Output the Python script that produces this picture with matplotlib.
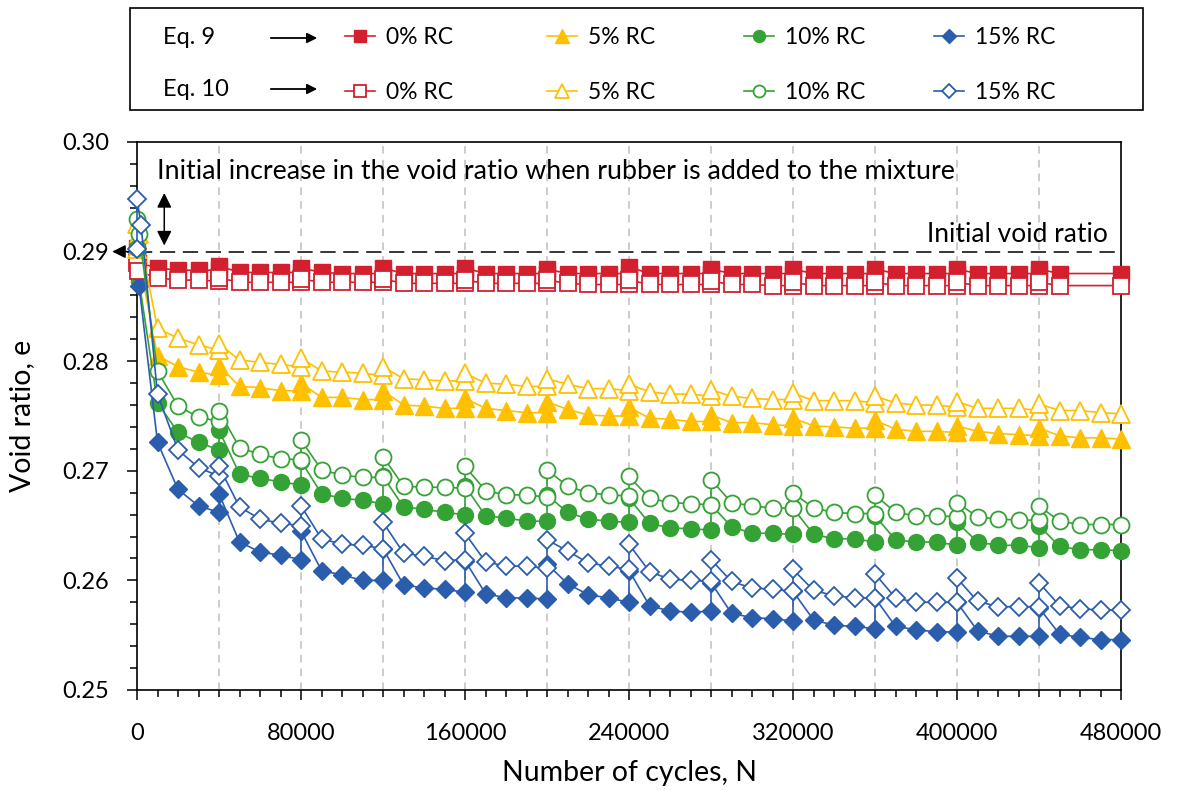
import matplotlib
matplotlib.use('Agg')
import matplotlib.pyplot as plt
from matplotlib.patches import Rectangle
from matplotlib.ticker import MultipleLocator, FormatStrFormatter

plt.rcParams['font.family'] = ['Lato', 'DejaVu Sans']

# sampling every 10000 cycles, specimen re-seated every 40000 cycles
cycles = list(range(10000, 480001, 10000))
reload_cycles = list(range(40000, 440001, 40000))

# ---- Eq. 9 ----
eq9_0_start = ([0, 500], [0.2903, 0.2890])
eq9_0 = [0.2885, 0.2883, 0.2883, 0.2883, 0.2881, 0.2881, 0.2881, 0.2881,
         0.2881, 0.2880, 0.2880, 0.2880, 0.2880, 0.2880, 0.2880, 0.2880,
         0.2880, 0.2880, 0.2880, 0.2880, 0.2880, 0.2880, 0.2880, 0.2880,
         0.2880, 0.2880, 0.2880, 0.2880, 0.2880, 0.2880, 0.2880, 0.2880,
         0.2880, 0.2880, 0.2880, 0.2880, 0.2880, 0.2880, 0.2880, 0.2880,
         0.2880, 0.2880, 0.2880, 0.2880, 0.2880, None, None, 0.2880]
eq9_0_peak = [0.2887, 0.2885, 0.2885, 0.2885, 0.2884, 0.2886, 0.2884, 0.2884,
              0.2884, 0.2884, 0.2884]

eq9_5_start = ([0, 500], [0.2902, 0.2897])
eq9_5 = [0.2805, 0.2795, 0.2790, 0.2787, 0.2777, 0.2776, 0.2773, 0.2773,
         0.2767, 0.2767, 0.2765, 0.2765, 0.2760, 0.2759, 0.2757, 0.2757,
         0.2757, 0.2755, 0.2753, 0.2753, 0.2756, 0.2751, 0.2750, 0.2750,
         0.2748, 0.2747, 0.2745, 0.2745, 0.2744, 0.2744, 0.2742, 0.2741,
         0.2741, 0.2740, 0.2739, 0.2739, 0.2738, 0.2736, 0.2736, 0.2735,
         0.2736, 0.2734, 0.2733, 0.2732, 0.2732, 0.2730, 0.2730, 0.2729]
eq9_5_peak = [0.2796, 0.2780, 0.2773, 0.2766, 0.2763, 0.2758, 0.2751, 0.2748,
              0.2746, 0.2741, 0.2739]

eq9_10_start = ([0, 1000], [0.2900, 0.2873])
eq9_10 = [0.2762, 0.2735, 0.2726, 0.2719, 0.2697, 0.2693, 0.2690, 0.2687,
          0.2679, 0.2675, 0.2673, 0.2670, 0.2667, 0.2665, 0.2662, 0.2660,
          0.2659, 0.2657, 0.2654, 0.2654, 0.2662, 0.2656, 0.2654, 0.2653,
          0.2652, 0.2648, 0.2647, 0.2646, 0.2649, 0.2643, 0.2643, 0.2642,
          0.2642, 0.2638, 0.2638, 0.2635, 0.2637, 0.2635, 0.2635, 0.2632,
          0.2635, 0.2632, 0.2632, 0.2630, 0.2631, 0.2628, 0.2628, 0.2627]
eq9_10_peak = [0.2737, 0.2709, 0.2695, 0.2686, 0.2678, 0.2675, 0.2669, 0.2666,
               0.2659, 0.2653, 0.2650]

eq9_15_start = ([0, 1000], [0.2900, 0.2869])
eq9_15 = [0.2726, 0.2683, 0.2668, 0.2662, 0.2635, 0.2626, 0.2623, 0.2619,
          0.2609, 0.2605, 0.2600, 0.2600, 0.2596, 0.2593, 0.2592, 0.2589,
          0.2588, 0.2584, 0.2584, 0.2583, 0.2597, 0.2587, 0.2584, 0.2580,
          0.2577, 0.2572, 0.2571, 0.2572, 0.2570, 0.2566, 0.2565, 0.2563,
          0.2564, 0.2559, 0.2558, 0.2556, 0.2558, 0.2555, 0.2553, 0.2553,
          0.2554, 0.2549, 0.2549, 0.2549, 0.2551, 0.2548, 0.2546, 0.2546]
eq9_15_peak = [0.2679, 0.2645, 0.2629, 0.2618, 0.2615, 0.2609, 0.2598, 0.2590,
               0.2584, 0.2580, 0.2575]

# ---- Eq. 10 ----
eq10_0_start = ([0, 500], [0.2890, 0.2882])
eq10_0 = [0.2876, 0.2874, 0.2874, 0.2873, 0.2872, 0.2872, 0.2872, 0.2872,
          0.2872, 0.2872, 0.2872, 0.2872, 0.2871, 0.2871, 0.2871, 0.2871,
          0.2871, 0.2871, 0.2871, 0.2871, 0.2871, 0.2870, 0.2870, 0.2870,
          0.2870, 0.2870, 0.2870, 0.2870, 0.2870, 0.2870, 0.2869, 0.2869,
          0.2869, 0.2869, 0.2869, 0.2869, 0.2869, 0.2869, 0.2869, 0.2869,
          0.2869, 0.2869, 0.2869, 0.2869, 0.2869, None, None, 0.2869]
eq10_0_peak = [0.2876, 0.2875, 0.2875, 0.2874, 0.2874, 0.2874, 0.2873, 0.2872,
               0.2872, 0.2872, 0.2872]

eq10_5_start = ([0, 0, 1000], [0.2902, 0.2925, 0.2916])
eq10_5 = [0.2830, 0.2821, 0.2815, 0.2810, 0.2801, 0.2799, 0.2797, 0.2795,
          0.2791, 0.2790, 0.2789, 0.2787, 0.2784, 0.2783, 0.2782, 0.2782,
          0.2780, 0.2779, 0.2777, 0.2777, 0.2779, 0.2775, 0.2775, 0.2773,
          0.2772, 0.2770, 0.2770, 0.2768, 0.2768, 0.2766, 0.2765, 0.2765,
          0.2764, 0.2764, 0.2764, 0.2762, 0.2762, 0.2760, 0.2760, 0.2758,
          0.2757, 0.2757, 0.2757, 0.2755, 0.2755, 0.2755, 0.2753, 0.2752]
eq10_5_peak = [0.2816, 0.2803, 0.2795, 0.2789, 0.2784, 0.2779, 0.2774, 0.2771,
               0.2768, 0.2763, 0.2761]

eq10_10_start = ([0, 0, 1000], [0.2903, 0.2930, 0.2916])
eq10_10 = [0.2791, 0.2759, 0.2749, 0.2745, 0.2721, 0.2715, 0.2711, 0.2710,
           0.2701, 0.2696, 0.2694, 0.2694, 0.2686, 0.2685, 0.2685, 0.2684,
           0.2682, 0.2678, 0.2678, 0.2676, 0.2686, 0.2680, 0.2678, 0.2677,
           0.2675, 0.2671, 0.2670, 0.2669, 0.2671, 0.2668, 0.2666, 0.2666,
           0.2666, 0.2662, 0.2661, 0.2661, 0.2662, 0.2659, 0.2659, 0.2658,
           0.2658, 0.2656, 0.2655, 0.2655, 0.2654, 0.2651, 0.2651, 0.2651]
eq10_10_peak = [0.2755, 0.2728, 0.2713, 0.2704, 0.2701, 0.2695, 0.2692, 0.2680,
                0.2678, 0.2671, 0.2668]

eq10_15_start = ([0, 0, 2000], [0.2902, 0.2948, 0.2924])
eq10_15 = [0.2770, 0.2719, 0.2703, 0.2695, 0.2667, 0.2656, 0.2652, 0.2650,
           0.2638, 0.2633, 0.2632, 0.2629, 0.2625, 0.2622, 0.2618, 0.2619,
           0.2617, 0.2613, 0.2613, 0.2611, 0.2627, 0.2616, 0.2613, 0.2610,
           0.2608, 0.2601, 0.2600, 0.2599, 0.2599, 0.2593, 0.2592, 0.2590,
           0.2591, 0.2586, 0.2584, 0.2584, 0.2584, 0.2580, 0.2580, 0.2580,
           0.2581, 0.2576, 0.2576, 0.2576, 0.2577, 0.2574, 0.2573, 0.2573]
eq10_15_peak = [0.2704, 0.2668, 0.2653, 0.2643, 0.2637, 0.2633, 0.2619, 0.2610,
                0.2606, 0.2602, 0.2598]

rc_labels = ['0% RC', '5% RC', '10% RC', '15% RC']
colors = ['#D2202F', '#FFC000', '#35A235', '#2B5DAD']
markers = ['s', '^', 'o', 'D']
msizes = [12, 12.5, 11.5, 9.3]


def build(start, values, peaks):
    n, e = list(start[0]), list(start[1])
    for c, v in zip(cycles, values):
        if v is None:
            continue
        n.append(c)
        e.append(v)
        if c in reload_cycles:
            n.append(c)
            e.append(peaks[reload_cycles.index(c)])
    return n, e


W, H = 1177, 791
fig = plt.figure(figsize=(W / 100, H / 100), dpi=100)
ax = fig.add_axes([137 / W, 1 - 690 / H, 984 / W, 548 / H])

eq9 = [(eq9_0_start, eq9_0, eq9_0_peak), (eq9_5_start, eq9_5, eq9_5_peak),
       (eq9_10_start, eq9_10, eq9_10_peak), (eq9_15_start, eq9_15, eq9_15_peak)]
eq10 = [(eq10_0_start, eq10_0, eq10_0_peak), (eq10_5_start, eq10_5, eq10_5_peak),
        (eq10_10_start, eq10_10, eq10_10_peak), (eq10_15_start, eq10_15, eq10_15_peak)]

h9, h10 = [], []
for i, s in enumerate(eq9):
    n, e = build(*s)
    h, = ax.plot(n, e, marker=markers[i], ms=msizes[i], color=colors[i],
                 mfc=colors[i], mec=colors[i], lw=1.2, clip_on=False, zorder=3)
    h9.append(h)
for i, s in enumerate(eq10):
    n, e = build(*s)
    h, = ax.plot(n, e, marker=markers[i], ms=msizes[i], color=colors[i],
                 mfc='white', mec=colors[i], mew=1.3, lw=1.2, clip_on=False, zorder=4)
    h10.append(h)

ax.set_xlim(0, 480000)
ax.set_ylim(0.25, 0.30)
ax.xaxis.set_major_locator(MultipleLocator(80000))
ax.xaxis.set_minor_locator(MultipleLocator(10000))
ax.yaxis.set_major_locator(MultipleLocator(0.01))
ax.yaxis.set_minor_locator(MultipleLocator(0.002))
ax.yaxis.set_major_formatter(FormatStrFormatter('%.2f'))
ax.tick_params(which='both', direction='out', width=1.1, color='black')
ax.tick_params(which='major', length=7, labelsize=17)
ax.tick_params(which='minor', length=5)
ax.tick_params(axis='y', which='major', pad=13)
ax.tick_params(axis='x', which='major', pad=17)
for sp in ax.spines.values():
    sp.set_linewidth(1.2)
    sp.set_color('black')

for c in reload_cycles:
    ax.axvline(c, color='#BFBFBF', lw=1.1, ls=(0, (5, 4)), zorder=1)

# initial void ratio reference line
ax.axhline(0.29, color='black', lw=1.1, ls=(0, (10, 5)), zorder=2)
ax.annotate('', xy=(-0.028, 0.29), xytext=(0.0, 0.29),
            xycoords=('axes fraction', 'data'),
            arrowprops=dict(arrowstyle='-|>', color='black', lw=1.1, mutation_scale=20),
            annotation_clip=False)
ax.text(473500, 0.2916, 'Initial void ratio', fontsize=19, ha='right', va='center')

ax.annotate('', xy=(13300, 0.2956), xytext=(13300, 0.2903),
            arrowprops=dict(arrowstyle='<|-|>', color='black', lw=1.1, mutation_scale=22))
ax.text(9800, 0.2973, 'Initial increase in the void ratio when rubber is added to the mixture',
        fontsize=19.3, ha='left', va='center')

ax.set_xlabel('Number of cycles, N', fontsize=20.5)
ax.set_ylabel('Void ratio, e', fontsize=20.5)
ax.xaxis.set_label_coords(0.5, -0.127)
ax.yaxis.set_label_coords(-0.104, 0.5)

# legend box
fig.patches.append(Rectangle((130 / W, 1 - 110 / H), 1013 / W, 102 / H,
                             transform=fig.transFigure, fill=False,
                             edgecolor='black', lw=1.2))
row_y = [1 - 38 / H, 1 - 89 / H]
for y, lab in zip(row_y, ['Eq. 9', 'Eq. 10']):
    fig.text(163 / W, y, lab, fontsize=17, va='center', ha='left')
    ax.annotate('', xy=(320 / W, y), xytext=(268 / W, y), xycoords='figure fraction',
                arrowprops=dict(arrowstyle='-|>', color='black', lw=1.3, mutation_scale=15),
                annotation_clip=False)

col_x = [345, 547, 744, 934]
for i in range(4):
    fig.legend(handles=[h9[i], h10[i]], labels=[rc_labels[i], rc_labels[i]],
               loc='center left', bbox_to_anchor=(col_x[i] / W, 1 - 65 / H),
               frameon=False, fontsize=16.5, borderpad=0, borderaxespad=0,
               handlelength=1.3, handletextpad=0.5, labelspacing=1.45,
               markerscale=0.75)

fig.savefig('out.png', dpi=100)
